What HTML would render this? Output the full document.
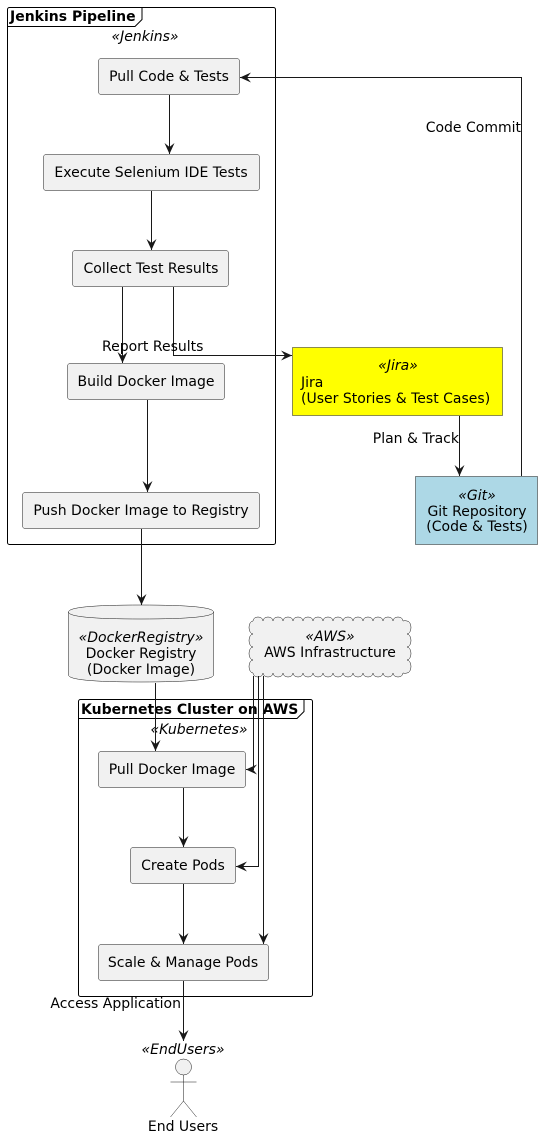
<!DOCTYPE html>
<html><head><meta charset="utf-8"><style>
html,body{margin:0;padding:0;background:#fff}
svg{display:block}
text{font-family:"DejaVu Sans","Liberation Sans",sans-serif;font-size:14px;fill:#000}
.it{font-style:italic}
.b{font-weight:bold}
.box{fill:#f1f1f1;stroke:#181818;stroke-width:0.5}
.ln{stroke:#181818;stroke-width:1;fill:none}
</style></head><body>
<svg width="542" height="1135" viewBox="0 0 542 1135" xmlns="http://www.w3.org/2000/svg">
<defs>
<marker id="a" markerWidth="14" markerHeight="14" refX="11" refY="6" orient="auto" markerUnits="userSpaceOnUse">
<path d="M0,1 L11,6 L0,11 L4,6 Z" fill="#181818"/>
</marker>
</defs>

<rect x="7.5" y="7.5" width="268" height="537" rx="2" fill="none" stroke="#000" stroke-width="1"/>
<path d="M7.5,26.5 H135 L142,19.5 V7.5" fill="none" stroke="#000" stroke-width="1"/>
<text x="10" y="21" class="b">Jenkins Pipeline</text>
<text x="145" y="41" class="it" text-anchor="middle">«Jenkins»</text>

<rect class="box" x="98.5" y="58.5" width="141" height="36" rx="2.5"/>
<text x="169" y="81" text-anchor="middle">Pull Code &amp; Tests</text>
<rect class="box" x="43.5" y="154.5" width="216" height="36" rx="2.5"/>
<text x="151" y="177" text-anchor="middle">Execute Selenium IDE Tests</text>
<rect class="box" x="72.5" y="250.5" width="156" height="36" rx="2.5"/>
<text x="151" y="273" text-anchor="middle">Collect Test Results</text>
<rect class="box" x="67.5" y="363.5" width="157" height="36" rx="2.5"/>
<text x="146" y="386" text-anchor="middle">Build Docker Image</text>
<rect class="box" x="22.5" y="492.5" width="237" height="36" rx="2.5"/>
<text x="141" y="515" text-anchor="middle">Push Docker Image to Registry</text>

<line class="ln" x1="169.5" y1="95" x2="169.5" y2="154" marker-end="url(#a)"/>
<line class="ln" x1="151.5" y1="191" x2="151.5" y2="250" marker-end="url(#a)"/>
<line class="ln" x1="122.5" y1="287" x2="122.5" y2="363" marker-end="url(#a)"/>
<path class="ln" d="M173.5,287 V355.5 H292" marker-end="url(#a)"/>
<text x="102" y="351">Report Results</text>
<line class="ln" x1="147.5" y1="400" x2="147.5" y2="492" marker-end="url(#a)"/>

<rect x="292.5" y="347.5" width="210" height="68" fill="#ffff00" stroke="#181818" stroke-width="0.5"/>
<text x="398" y="370" class="it" text-anchor="middle">«Jira»</text>
<text x="301" y="387">Jira</text>
<text x="301" y="403">(User Stories &amp; Test Cases)</text>
<line class="ln" x1="459.5" y1="416" x2="459.5" y2="476" marker-end="url(#a)"/>
<text x="459" y="443" text-anchor="end">Plan &amp; Track</text>

<rect x="415.5" y="476.5" width="122" height="68" fill="#add8e6" stroke="#181818" stroke-width="0.5"/>
<text x="477" y="500" class="it" text-anchor="middle">«Git»</text>
<text x="477" y="516" text-anchor="middle">Git Repository</text>
<text x="477" y="531" text-anchor="middle">(Code &amp; Tests)</text>
<path class="ln" d="M521.5,476 V77.5 H240" marker-end="url(#a)"/>
<text x="521" y="132" text-anchor="end">Code Commit</text>

<line class="ln" x1="141.5" y1="529" x2="141.5" y2="605" marker-end="url(#a)"/>

<path d="M68.5,612 Q68.5,605 141,605 Q213.5,605 213.5,612 V675 Q213.5,682 141,682 Q68.5,682 68.5,675 Z" fill="#f1f1f1" stroke="#181818" stroke-width="0.5"/>
<path d="M68.5,612 Q68.5,619 141,619 Q213.5,619 213.5,612" fill="none" stroke="#181818" stroke-width="0.5"/>
<text x="141" y="642" class="it" text-anchor="middle">«DockerRegistry»</text>
<text x="141" y="658" text-anchor="middle">Docker Registry</text>
<text x="141" y="674" text-anchor="middle">(Docker Image)</text>

<path d="M253,621 a5,4 0 0 1 10,0 a5,4 0 0 1 10,0 a5,4 0 0 1 10,0 a5,4 0 0 1 10,0 a5,4 0 0 1 10,0 a5,4 0 0 1 10,0 a5,4 0 0 1 10,0 a5,4 0 0 1 10,0 a5,4 0 0 1 10,0 a5,4 0 0 1 10,0 a5,4 0 0 1 10,0 a5,4 0 0 1 10,0 a5,4 0 0 1 10,0 a5,4 0 0 1 10,0 a5,4 0 0 1 10,0 a5,4 0 0 1 4,0
 a4,6.5 0 0 1 0,13 a4,6.5 0 0 1 0,13 a4,6.5 0 0 1 0,13 a4,6.5 0 0 1 0,13
 a5,4 0 0 1 -4,0 a5,4 0 0 1 -10,0 a5,4 0 0 1 -10,0 a5,4 0 0 1 -10,0 a5,4 0 0 1 -10,0 a5,4 0 0 1 -10,0 a5,4 0 0 1 -10,0 a5,4 0 0 1 -10,0 a5,4 0 0 1 -10,0 a5,4 0 0 1 -10,0 a5,4 0 0 1 -10,0 a5,4 0 0 1 -10,0 a5,4 0 0 1 -10,0 a5,4 0 0 1 -10,0 a5,4 0 0 1 -10,0 a5,4 0 0 1 -10,0
 a4,6.5 0 0 1 0,-13 a4,6.5 0 0 1 0,-13 a4,6.5 0 0 1 0,-13 a4,6.5 0 0 1 0,-13 Z" fill="#f1f1f1" stroke="#181818" stroke-width="0.5"/>
<text x="330" y="641" class="it" text-anchor="middle">«AWS»</text>
<text x="330" y="657" text-anchor="middle">AWS Infrastructure</text>

<rect x="78.5" y="699.5" width="234" height="297" rx="2" fill="none" stroke="#000" stroke-width="1"/>
<path d="M78.5,718.5 H297 L304,711.5 V699.5" fill="none" stroke="#000" stroke-width="1"/>
<text x="81" y="714" class="b">Kubernetes Cluster on AWS</text>
<text x="199" y="734" class="it" text-anchor="middle">«Kubernetes»</text>

<rect class="box" x="98.5" y="751.5" width="147" height="36" rx="2.5"/>
<text x="172" y="774" text-anchor="middle">Pull Docker Image</text>
<rect class="box" x="130.5" y="847.5" width="105" height="36" rx="2.5"/>
<text x="183" y="870" text-anchor="middle">Create Pods</text>
<rect class="box" x="98.5" y="944.5" width="170" height="36" rx="2.5"/>
<text x="183" y="967" text-anchor="middle">Scale &amp; Manage Pods</text>

<line class="ln" x1="155.5" y1="683" x2="155.5" y2="751" marker-end="url(#a)"/>
<path class="ln" d="M253.5,676 V769.5 H246" marker-end="url(#a)"/>
<path class="ln" d="M258.5,676 V866.5 H236" marker-end="url(#a)"/>
<line class="ln" x1="263.5" y1="676" x2="263.5" y2="944" marker-end="url(#a)"/>
<line class="ln" x1="183.5" y1="788" x2="183.5" y2="847" marker-end="url(#a)"/>
<line class="ln" x1="183.5" y1="884" x2="183.5" y2="944" marker-end="url(#a)"/>
<line class="ln" x1="183.5" y1="981" x2="183.5" y2="1041" marker-end="url(#a)"/>
<text x="181" y="1008" text-anchor="end">Access Application</text>

<text x="183" y="1054" class="it" text-anchor="middle">«EndUsers»</text>
<circle cx="183.5" cy="1067" r="8" fill="#f1f1f1" stroke="#181818" stroke-width="0.5"/>
<path d="M183.5,1075 V1101 M170.5,1082 H196.5 M170.5,1117 L183.5,1101 L196.5,1117" fill="none" stroke="#181818" stroke-width="0.5"/>
<text x="183" y="1131" text-anchor="middle">End Users</text>
</svg>
</body></html>
